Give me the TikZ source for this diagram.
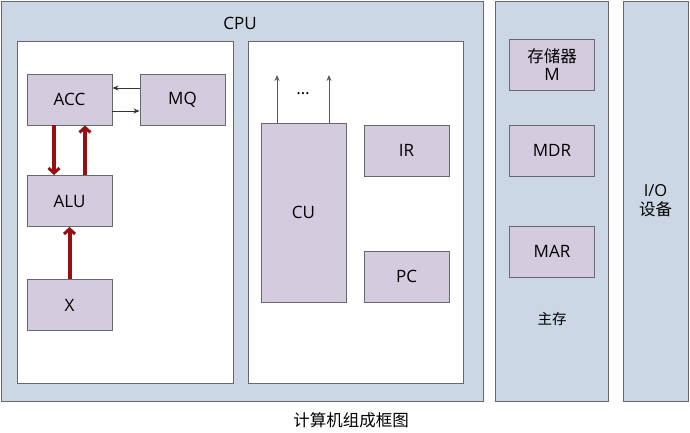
\documentclass[tikz,border=0pt]{standalone}
\usepackage{fontspec}
\setmainfont{Open Sans}
\newfontfamily\cjk{Noto Sans CJK SC}
\usetikzlibrary{
  positioning,
  arrows.meta
}

\definecolor{panelBlue}{HTML}{CBD7E5}
\definecolor{unitLilac}{HTML}{D4CBDF}
\definecolor{edgeGrey}{HTML}{65686C}
\definecolor{busRed}{HTML}{960F13}

\begin{document}
\begin{tikzpicture}[
    x=1pt,y=-1pt,
    font=\fontsize{17}{20}\selectfont,
    panelBox/.style={draw=edgeGrey,line width=1pt,fill=panelBlue,inner sep=0pt},
    innerBox/.style={draw=edgeGrey,line width=1pt,fill=white,inner sep=0pt},
    unitBox/.style={draw=edgeGrey,line width=0.9pt,fill=unitLilac,minimum width=85pt,minimum height=51pt,inner sep=0pt,align=center},
    thinArrow/.style={-{Stealth[length=6pt,width=5pt]},draw=black!80,line width=0.8pt},
    busArrow/.style={-{Straight Barb[length=5pt,width=11pt,line width=3pt]},draw=busRed,line width=4pt},
  ]
    \useasboundingbox (0,0) rectangle (690,432);

    % outer panels
    \node[panelBox,minimum width=482pt,minimum height=400pt,anchor=north west] (cpu) at (1,1) {};
    \node[panelBox,minimum width=113pt,minimum height=400pt,anchor=north west] (mem) at (495,1) {};
    \node[panelBox,minimum width=65pt,minimum height=400pt,anchor=north west] (io) at (623,1) {};
    \node (cpuLabel) at (240,23) {CPU};

    % inner panels of the CPU
    \node[innerBox,minimum width=216pt,minimum height=342pt,anchor=north west] (alUnit) at (17,41) {};
    \node[innerBox,minimum width=215pt,minimum height=342pt,anchor=north west] (ctrlUnit) at (248,41) {};

    % arithmetic part
    \node[unitBox] (acc) at (69.5,99.5) {ACC};
    \node[unitBox] (mq) at (182.5,99.5) {MQ};
    \node[unitBox] (alu) at (69.5,201) {ALU};
    \node[unitBox] (x) at (69.5,305) {X};

    \draw[thinArrow] ([yshift=11.5pt]mq.west) -- ([yshift=11.5pt]acc.east);
    \draw[thinArrow] ([yshift=-11.5pt]acc.east) -- ([yshift=-11.5pt]mq.west);
    \draw[busArrow] ([xshift=-15.5pt]acc.south) -- ([xshift=-15.5pt]alu.north);
    \draw[busArrow] ([xshift=15.5pt]alu.north) -- ([xshift=15.5pt]acc.south);
    \draw[busArrow] (x.north) -- (alu.south);

    % control part
    \node[unitBox,minimum height=179pt] (cu) at (303.5,212.5) {CU};
    \node[unitBox] (ir) at (406.5,150.5) {IR};
    \node[unitBox] (pc) at (406.5,276.5) {PC};
    \coordinate (cuOutA) at (277,75);
    \coordinate (cuOutB) at (329,75);
    \draw[thinArrow,draw=black!65] (cu.north -| cuOutA) -- (cuOutA);
    \draw[thinArrow,draw=black!65] (cu.north -| cuOutB) -- (cuOutB);
    \node (dots) at (303,94) {\dots};

    % main memory
    \node[unitBox,font=\fontsize{17}{18}\selectfont] (storage) at (552,64.5) {{\cjk\fontsize{16.5}{18}\selectfont 存储器}\\M};
    \node[unitBox] (mdr) at (552,150.5) {MDR};
    \node[unitBox] (mar) at (552,251.5) {MAR};
    \node (memLabel) at (552,319) {\cjk\fontsize{14.5}{16}\selectfont 主存};

    % I/O
    \node[align=center,font=\fontsize{16.5}{19}\selectfont] (ioLabel) at (655.5,201) {I/O\\{\cjk 设备}};

    \node (caption) at (351,420) {\cjk\fontsize{16.5}{18}\selectfont 计算机组成框图};
  \end{tikzpicture}
\end{document}
